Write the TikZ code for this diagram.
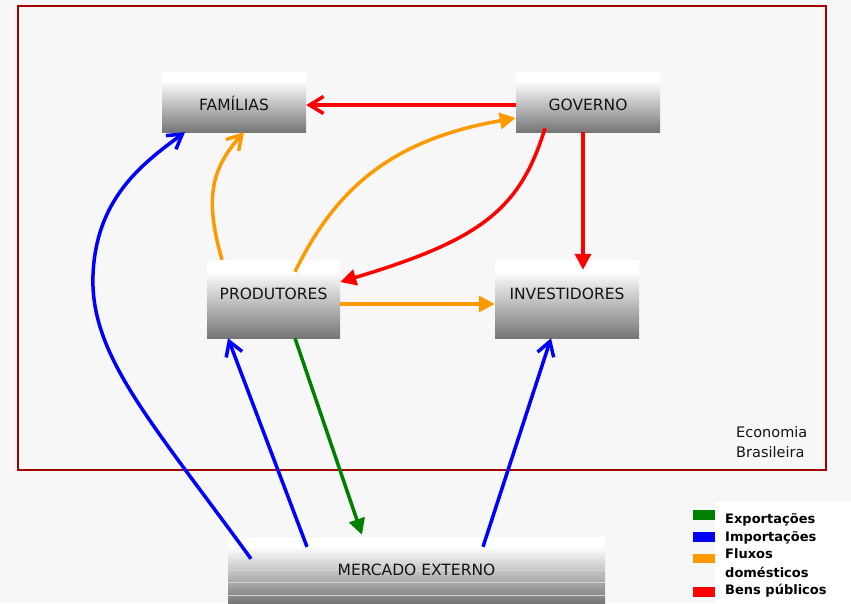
\documentclass[tikz,border=0pt]{standalone}
\usepackage{fontspec}
\setmainfont{DejaVu Sans}
\usetikzlibrary{arrows.meta,calc}
\definecolor{bgc}{RGB}{247,247,247}
\definecolor{framec}{RGB}{165,0,0}
\definecolor{boxg}{RGB}{118,118,118}
\definecolor{cgreen}{RGB}{0,128,0}
\definecolor{cblue}{RGB}{0,0,255}
\definecolor{corange}{RGB}{255,153,0}
\definecolor{cred}{RGB}{255,0,0}
\definecolor{txt}{RGB}{20,20,20}
\definecolor{stripe}{RGB}{212,212,212}
\pgfdeclareverticalshading{boxsh}{100bp}{color(0bp)=(boxg); color(25bp)=(boxg); color(68bp)=(white); color(100bp)=(white)}
\begin{document}
\begin{tikzpicture}[x=1pt,y=-1pt,
  box/.style={rectangle, shading=boxsh, inner sep=0pt, text=txt,
    font=\fontsize{15.5}{18}\selectfont},
  flow/.style={line width=3.5pt},
  openhd/.style={-{Straight Barb[length=14pt,width=17pt]}},
  fillhd/.style={-{Triangle[length=16pt,width=16pt]}},
  legtxt/.style={font=\bfseries\fontsize{13}{15}\selectfont, text=black, inner sep=0pt, anchor=base west},
  ecotxt/.style={font=\fontsize{14.5}{17}\selectfont, text=txt, inner sep=0pt, anchor=base west}]
\useasboundingbox (0,0) rectangle (851,603);
\fill[bgc] (0,0) rectangle (851,603);
% frame
\draw[framec, line width=1.2pt] (18,6) rectangle (826,470);
\node[ecotxt] (eco1) at (736,437) {Economia};
\node[ecotxt] (eco2) at (736,457) {Brasileira};
% boxes
\node[box, minimum width=144pt, text height=38.7pt, text depth=21.3pt] (fam) at (234,102) {FAMÍLIAS};
\node[box, minimum width=144pt, text height=38.7pt, text depth=21.3pt] (gov) at (588,102) {GOVERNO};
\node[box, minimum width=133pt, text height=39.3pt, text depth=38.7pt] (prod) at (273.5,299) {PRODUTORES};
\node[box, minimum width=144pt, text height=39.3pt, text depth=38.7pt] (inv) at (567,299) {INVESTIDORES};
\node[box, minimum width=377pt, text height=38pt, text depth=28pt,
  path picture={
    \draw[stripe, line width=1pt] (path picture bounding box.west) -- (path picture bounding box.east);
    \draw[stripe, line width=1pt] ([yshift=-12pt]path picture bounding box.west) -- ([yshift=-12pt]path picture bounding box.east);
    \draw[stripe, line width=1pt] ([yshift=-25pt]path picture bounding box.west) -- ([yshift=-25pt]path picture bounding box.east);
  }] (merc) at (416.5,570) {MERCADO EXTERNO};
% connectors
\draw[flow, cred, openhd] ([yshift=-3pt]gov.west) -- ([yshift=-3pt]fam.east);
\draw[flow, corange, fillhd] ([xshift=21.5pt,yshift=-12pt]prod.north) .. controls (335,190) and (390,140) .. ([yshift=-16pt]gov.west);
\draw[flow, cred, fillhd] ([xshift=-43pt,yshift=4pt]gov.south) .. controls (520,210) and (480,240) .. ([yshift=17pt]prod.east);
\draw[flow, cred, fillhd] ([xshift=-5pt]gov.south) -- ([xshift=16pt,yshift=-10pt]inv.north);
\draw[flow, corange, fillhd] ([yshift=-5pt]prod.east) -- ([yshift=-5pt]inv.west);
\draw[flow, corange, openhd] ([xshift=-51.5pt]prod.north) .. controls (205,200) and (210,170) .. ([xshift=10pt]fam.south);
\draw[flow, cblue, openhd] ([xshift=-165.5pt,yshift=-22pt]merc.north) .. controls (150,420) and (90,355) .. (93,275) .. controls (96,200) and (140,165) .. ([xshift=-49pt]fam.south);
\draw[flow, cblue, openhd] ([xshift=-109.5pt,yshift=-10pt]merc.north) -- ([xshift=-45.5pt]prod.south);
\draw[flow, cgreen, fillhd] ([xshift=21.5pt]prod.south) -- ([xshift=-54.5pt,yshift=2pt]merc.north);
\draw[flow, cblue, openhd] ([xshift=66.5pt,yshift=-10pt]merc.north) -- ([xshift=-16pt]inv.south);
% legend
\fill[white] (715,502) rectangle (851,603);
\fill[cgreen] (693,510) rectangle (715,520);
\fill[cblue] (693,532) rectangle (715,542);
\fill[corange] (693,554) rectangle (715,563);
\fill[cred] (693,587) rectangle (715,597);
\node[legtxt] (lg1) at (725,523) {Exportações};
\node[legtxt] (lg2) at (725,541) {Importações};
\node[legtxt] (lg3) at (725,558) {Fluxos};
\node[legtxt] (lg4) at (725,577) {domésticos};
\node[legtxt] (lg5) at (725,594) {Bens públicos};
\end{tikzpicture}
\end{document}
